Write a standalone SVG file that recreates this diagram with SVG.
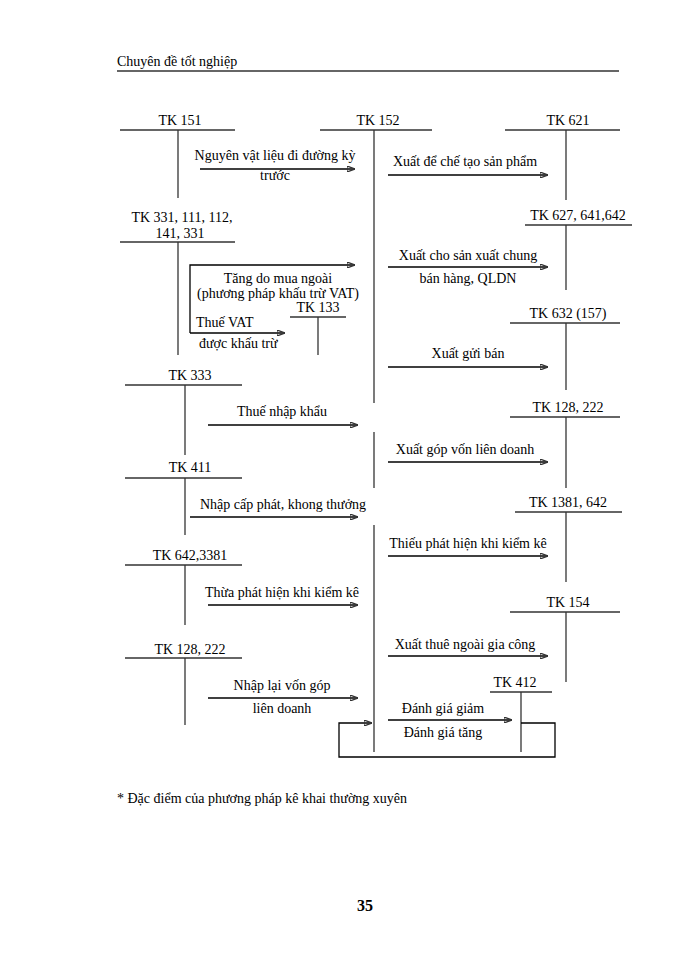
<svg xmlns="http://www.w3.org/2000/svg" width="700" height="960" viewBox="0 0 700 960">
<defs><marker id="ar" markerWidth="8" markerHeight="6" refX="8" refY="3" orient="auto" markerUnits="userSpaceOnUse"><path d="M0,0L8,3L0,6z" fill="#000"/></marker></defs>
<style>
text{font-family:"Liberation Serif",serif;font-size:14px;fill:#000}
.c{text-anchor:middle}
line,path,polyline{stroke:#333;stroke-width:1.3;fill:none}
.a{marker-end:url(#ar);stroke:#000}
</style>
<rect width="700" height="960" fill="#fff"/>
<text x="117" y="66" style="font-size:14px">Chuyên  đề tốt nghiệp</text>
<line x1="117" y1="71" x2="619" y2="71"/>
<g id="tk151"><text class="c" x="180" y="125">TK 151</text><line x1="120" y1="130" x2="235" y2="130"/><line x1="178" y1="130" x2="178" y2="198"/></g>
<g id="tk331"><text class="c" x="182" y="222">TK 331, 111, 112,</text><text class="c" x="180" y="238">141, 331</text><line x1="120" y1="242" x2="235" y2="242"/><line x1="178" y1="242" x2="178" y2="355"/></g>
<g id="tk133"><text class="c" x="318" y="312">TK 133</text><line x1="290" y1="317" x2="346" y2="317"/><line x1="318" y1="317" x2="318" y2="355"/></g>
<g id="tk333"><text class="c" x="190" y="380">TK 333</text><line x1="125" y1="385" x2="242" y2="385"/><line x1="185" y1="385" x2="185" y2="455"/></g>
<g id="tk411"><text class="c" x="190" y="472">TK 411</text><line x1="125" y1="478" x2="242" y2="478"/><line x1="185" y1="478" x2="185" y2="535"/></g>
<g id="tk642"><text class="c" x="190" y="560">TK 642,3381</text><line x1="125" y1="565" x2="242" y2="565"/><line x1="185" y1="565" x2="185" y2="625"/></g>
<g id="tk128l"><text class="c" x="190" y="654">TK 128, 222</text><line x1="125" y1="658" x2="242" y2="658"/><line x1="185" y1="658" x2="185" y2="725"/></g>
<g id="tk152"><text class="c" x="378" y="125">TK 152</text><line x1="320" y1="130" x2="432" y2="130"/><line x1="374" y1="130" x2="374" y2="403"/><line x1="374" y1="432" x2="374" y2="488"/><line x1="374" y1="525" x2="374" y2="752"/></g>
<g id="tk621"><text class="c" x="568" y="125">TK 621</text><line x1="505" y1="130" x2="620" y2="130"/><line x1="566" y1="130" x2="566" y2="200"/></g>
<g id="tk627"><text class="c" x="578" y="220">TK 627, 641,642</text><line x1="525" y1="225" x2="632" y2="225"/><line x1="566" y1="225" x2="566" y2="290"/></g>
<g id="tk632"><text class="c" x="568" y="318">TK 632 (157)</text><line x1="510" y1="323" x2="620" y2="323"/><line x1="566" y1="323" x2="566" y2="390"/></g>
<g id="tk128r"><text class="c" x="568" y="412">TK 128, 222</text><line x1="510" y1="417" x2="620" y2="417"/><line x1="566" y1="417" x2="566" y2="488"/></g>
<g id="tk1381"><text class="c" x="568" y="507">TK 1381, 642</text><line x1="515" y1="512" x2="622" y2="512"/><line x1="566" y1="512" x2="566" y2="582"/></g>
<g id="tk154"><text class="c" x="568" y="607">TK 154</text><line x1="510" y1="612" x2="620" y2="612"/><line x1="566" y1="612" x2="566" y2="682"/></g>
<g id="tk412"><text class="c" x="515" y="687">TK 412</text><line x1="490" y1="692" x2="552" y2="692"/><line x1="521" y1="692" x2="521" y2="752"/></g>
<g id="connectors">
<line class="a" x1="200" y1="169" x2="355" y2="169"/>
<line class="a" x1="388" y1="175" x2="548" y2="175"/>
<polyline class="a" points="190,333 190,265 355,265"/>
<line class="a" x1="190" y1="333" x2="285" y2="333"/>
<line class="a" x1="388" y1="267" x2="548" y2="267"/>
<line class="a" x1="388" y1="367" x2="548" y2="367"/>
<line class="a" x1="208" y1="425" x2="358" y2="425"/>
<line class="a" x1="388" y1="462" x2="548" y2="462"/>
<line class="a" x1="190" y1="517" x2="358" y2="517"/>
<line class="a" x1="388" y1="556" x2="548" y2="556"/>
<line class="a" x1="208" y1="605" x2="358" y2="605"/>
<line class="a" x1="388" y1="656" x2="548" y2="656"/>
<line class="a" x1="208" y1="698" x2="358" y2="698"/>
<line class="a" x1="388" y1="720" x2="512" y2="720"/>
<polyline class="a" points="521,723 555,723 555,757 339,757 339,723 372,723"/>
</g>
<g id="labels">
<text class="c" x="275" y="160">Nguyên vật liệu đi đường kỳ</text>
<text class="c" x="275" y="180">trước</text>
<text class="c" x="465" y="166">Xuất để chế tạo sản phẩm</text>
<text class="c" x="278" y="283">Tăng do mua ngoài</text>
<text class="c" x="278" y="298">(phương pháp khấu trừ VAT)</text>
<text x="196" y="327">Thuế VAT</text>
<text x="199" y="348">được khấu trừ</text>
<text class="c" x="468" y="260">Xuất cho sản xuất chung</text>
<text class="c" x="468" y="283">bán hàng, QLDN</text>
<text class="c" x="468" y="358">Xuất gửi bán</text>
<text class="c" x="282" y="416">Thuế nhập khẩu</text>
<text class="c" x="465" y="454">Xuất góp vốn liên doanh</text>
<text class="c" x="283" y="509">Nhập cấp phát, khong thưởng</text>
<text class="c" x="468" y="548">Thiếu phát hiện khi kiểm kê</text>
<text class="c" x="282" y="597">Thừa phát hiện khi kiểm kê</text>
<text class="c" x="465" y="649">Xuất thuê ngoài gia công</text>
<text class="c" x="282" y="690">Nhập lại vốn góp</text>
<text class="c" x="282" y="713">liên doanh</text>
<text class="c" x="443" y="713">Đánh giá giảm</text>
<text class="c" x="443" y="737">Đánh giá tăng</text>
</g>
<text x="117" y="803">* Đặc điểm của phương  pháp  kê khai thường xuyên</text>
<text x="357" y="911" style="font-size:16px;font-weight:bold">35</text>
</svg>
